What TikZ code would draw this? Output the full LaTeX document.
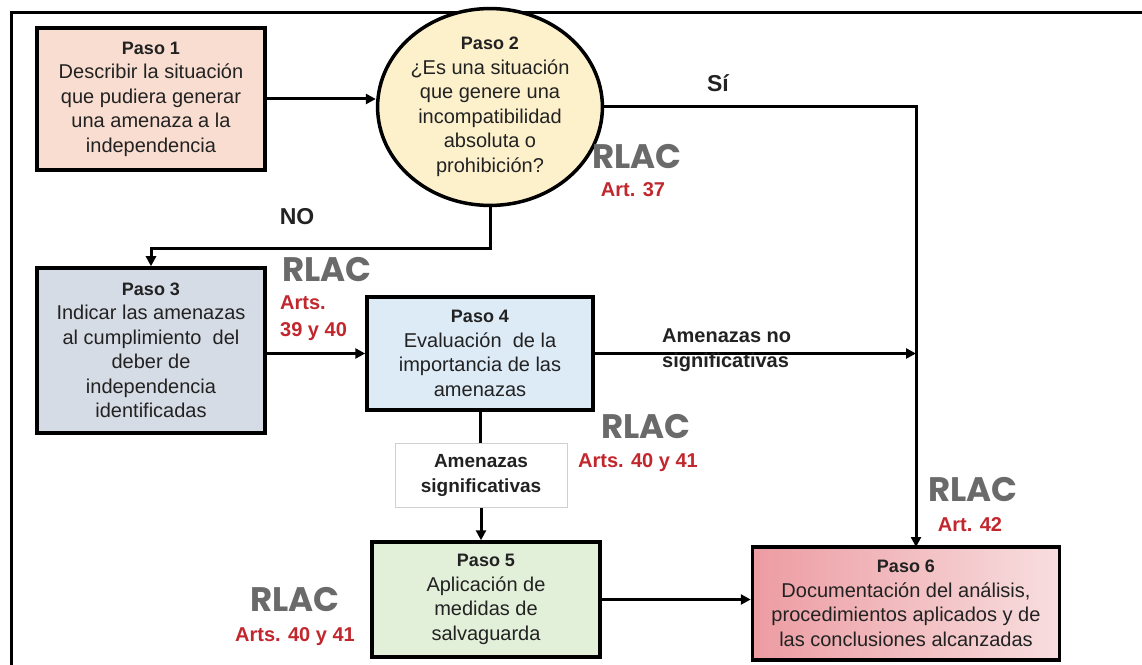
\documentclass[tikz,border=0pt]{standalone}
\usepackage{fontspec}
\setmainfont{Liberation Sans}
\newfontfamily\rlacfont{Poppins}
\usetikzlibrary{arrows.meta,shapes.geometric}
\definecolor{txt}{HTML}{222222}
\definecolor{c1}{HTML}{F9DDD0}
\definecolor{c2}{HTML}{FDF1CC}
\definecolor{c3}{HTML}{D6DCE5}
\definecolor{c4}{HTML}{DDEBF7}
\definecolor{c5}{HTML}{E2EFD9}
\definecolor{c6l}{HTML}{EC9CA2}
\definecolor{c6r}{HTML}{F8DEDF}
\definecolor{rlacgray}{HTML}{6A6A6A}
\definecolor{artred}{HTML}{C1272D}
\definecolor{sigborder}{HTML}{D0D0D0}
\begin{document}
\begin{tikzpicture}[x=1bp,y=-1bp,
  box/.style={draw=black, line width=3.5bp, align=center, inner sep=0pt, text=txt,
    font=\fontsize{20bp}{24.5bp}\selectfont},
  arr/.style={line width=3bp, -{Triangle[length=10bp,width=10bp]}},
  conn/.style={line width=3bp},
  rlac/.style={text=rlacgray, inner sep=0pt, font=\rlacfont\bfseries\fontsize{34bp}{34bp}\selectfont},
  art/.style={text=artred, inner sep=0pt, align=left, font=\bfseries\fontsize{20bp}{27bp}\selectfont},
  lbl/.style={text=txt, inner sep=0pt, align=left, font=\bfseries\fontsize{20bp}{25bp}\selectfont}
]
\clip (0,0) rectangle (1142,665);
\fill[white] (0,0) rectangle (1142,665);
% frame
\draw[line width=3bp] (11,680) -- (11,13) -- (1160,13);

\newcommand{\paso}[1]{{\bfseries\fontsize{18bp}{24.5bp}\selectfont #1}}

\node[box, fill=c1, minimum width=228bp, minimum height=142bp] (p1) at (151,99)
  {\paso{Paso 1}\\Describir la situación\\que pudiera generar\\una amenaza a la\\independencia};
\node[box, ellipse, fill=c2, minimum width=214bp, minimum height=182bp] (p2) at (490,107)
  {\paso{Paso 2}\\¿Es una situación\\que genere una\\incompatibilidad\\absoluta o\\prohibición?};
\node[box, fill=c3, minimum width=228bp, minimum height=165bp] (p3) at (151,350.5)
  {\paso{Paso 3}\\Indicar las amenazas\\al cumplimiento\ \ del\\deber de\\independencia\\identificadas};
\node[box, fill=c4, minimum width=226bp, minimum height=113bp] (p4) at (480,353.5)
  {\paso{Paso 4}\\Evaluación\ \ de la\\importancia de las\\amenazas};
\node[draw=sigborder, line width=1bp, fill=white, minimum width=172bp, minimum height=64bp,
  inner sep=0pt, align=center, text=txt, font=\bfseries\fontsize{19bp}{25bp}\selectfont] (sig) at (481,475)
  {Amenazas\\significativas};
\node[box, fill=c5, minimum width=228bp, minimum height=115bp] (p5) at (486,599.5)
  {\paso{Paso 5}\\Aplicación de\\medidas de\\salvaguarda};
\node[box, left color=c6l, right color=c6r, minimum width=307bp, minimum height=113bp] (p6) at (906,603.5)
  {\paso{Paso 6}\\Documentación del análisis,\\procedimientos aplicados y de\\las conclusiones alcanzadas};

\coordinate (vx) at (916,0);
\coordinate (p6in) at (916,547);

% connectors
\draw[arr] (p1.east) -- (p1.east -| p2.west);
\draw[arr] (p2.east) -| (p6in);
\draw[arr] (p2.south) -- ++(0,41) -| (p3.north);
\draw[arr] (p3.east |- p4.west) -- (p4.west);
\draw[arr] (p4.east) -- (p4.east -| vx);
\draw[conn] (p4.south) -- (p4.south |- sig.north);
\draw[arr] (sig.south) -- (sig.south |- p5.north);
\draw[arr] (p5.east) -- (p5.east -| p6.west);

% labels
\node[lbl, font=\bfseries\fontsize{23bp}{25bp}\selectfont] (si) at (718,83) {Sí};
\node[lbl, font=\bfseries\fontsize{23bp}{25bp}\selectfont] (no) at (297,217) {NO};
\node[lbl, anchor=west] (nosig) at (662,350) {Amenazas no\\significativas};

\node[rlac] (r2) at (637,157) {RLAC};
\node[art] (a2) at (633,190) {Art. 37};
\node[rlac] (r3) at (327,270) {RLAC};
\node[art, anchor=west] (a3) at (280,318.5) {Arts.\\39 y 40};
\node[rlac] (r4) at (646,427) {RLAC};
\node[art] (a4) at (638,463) {Arts. 40 y 41};
\node[rlac] (r5) at (295,600) {RLAC};
\node[art] (a5) at (295,637) {Arts. 40 y 41};
\node[rlac] (r6) at (973,490) {RLAC};
\node[art] (a6) at (970,525) {Art. 42};
\end{tikzpicture}
\end{document}
